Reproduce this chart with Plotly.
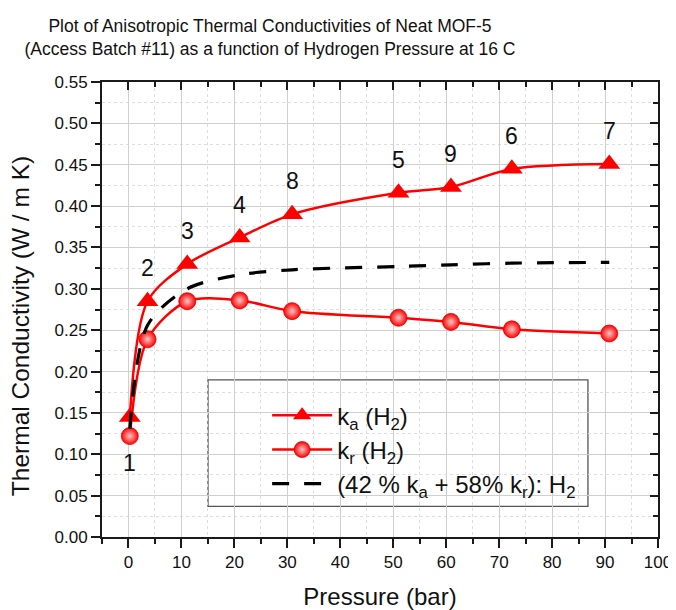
import plotly.graph_objects as go

# ---- data ----
pressure = [0.25, 3.6, 11.1, 21.0, 30.9, 51.0, 60.9, 72.4, 90.8]
k_a = [0.145, 0.285, 0.330, 0.362, 0.390, 0.416, 0.423, 0.445, 0.451]
k_r = [0.122, 0.239, 0.285, 0.286, 0.273, 0.265, 0.260, 0.251, 0.246]
k_mix = [0.131, 0.256, 0.300, 0.317, 0.323, 0.327, 0.329, 0.331, 0.332]
run_labels = ["1", "2", "3", "4", "8", "5", "9", "6", "7"]

x_ticks = list(range(0, 101, 10))
y_ticks = [round(0.05 * i, 2) for i in range(12)]

FONT = "Arial, 'Liberation Sans', sans-serif"
RED = "#ff0000"
AXC = "#1a1a1a"
GRID = "#cfcfcf"
MGRID = "#dedede"

W, H = 668, 602  # page body has an 8px margin

fig = go.Figure()

fig.add_trace(go.Scatter(
    x=pressure, y=k_a, mode="lines+markers",
    name="k<sub>a</sub> (H<sub>2</sub>)",
    line=dict(color=RED, width=2.5, shape="spline", smoothing=0.85),
    marker=dict(symbol="triangle-up", size=19, color=RED,
                line=dict(width=0)),
))
fig.add_trace(go.Scatter(
    x=pressure, y=k_r, mode="lines+markers",
    name="k<sub>r</sub> (H<sub>2</sub>)",
    line=dict(color=RED, width=2.5, shape="spline", smoothing=0.85),
    marker=dict(symbol="circle", size=17, color=RED,
                gradient=dict(type="radial", color="#ffc8c8"),
                line=dict(width=0.8, color="#e00000")),
))
fig.add_trace(go.Scatter(
    x=pressure, y=k_mix, mode="lines",
    name="(42 % k<sub>a</sub> + 58% k<sub>r</sub>): H<sub>2</sub>",
    line=dict(color="black", width=3.2, dash="17px,15px", shape="spline", smoothing=0.85),
))
# dummy trace for mirrored inside-tick axes (top / right)
fig.add_trace(go.Scatter(x=[None], y=[None], xaxis="x2", yaxis="y2",
                         showlegend=False, hoverinfo="skip"))

# run-number labels
for i, lab in enumerate(run_labels):
    if i == 0:
        fig.add_annotation(x=pressure[i], y=k_r[i], text=lab, showarrow=False,
                           yshift=-27, font=dict(family=FONT, size=23, color="#111"))
    else:
        fig.add_annotation(x=pressure[i], y=k_a[i], text=lab, showarrow=False,
                           yshift=33, font=dict(family=FONT, size=23, color="#111"))

# y-axis title (placed like the reference, slightly below plot centre)
fig.add_annotation(text="Thermal Conductivity (W / m K)", xref="paper", yref="paper",
                   x=-0.146, y=0.463, xanchor="center", yanchor="middle",
                   textangle=-90, showarrow=False,
                   font=dict(family=FONT, size=24.5, color="#111"))

# legend frame
fig.add_shape(type="rect", xref="paper", yref="paper",
              x0=0.1906, x1=0.874, y0=0.0672, y1=0.3453,
              line=dict(color="#555555", width=1.3), fillcolor="white",
              layer="between")

common_x = dict(range=[-5, 100], tickvals=x_ticks, zeroline=False, automargin=False)
common_y = dict(range=[0, 0.55], tickvals=y_ticks, zeroline=False, automargin=False)

fig.update_layout(
    width=W, height=H,
    margin=dict(l=94, r=18, t=74, b=73, autoexpand=False),
    paper_bgcolor="white", plot_bgcolor="white",
    font=dict(family=FONT, color="#111"),
    title=dict(
        text="Plot of Anisotropic Thermal Conductivities of Neat MOF-5<br>(Access Batch #11) as a function of Hydrogen Pressure at 16 C",
        x=262 / W, xref="container", xanchor="center",
        y=1 - 24 / H, yref="container", yanchor="top",
        font=dict(family=FONT, size=17.5, color="#111"),
    ),
    xaxis=dict(
        **common_x,
        title=dict(text="Pressure (bar)", font=dict(family=FONT, size=24), standoff=20),
        ticks="outside", ticklen=9, tickwidth=1.5, tickcolor=AXC,
        tickfont=dict(family=FONT, size=17),
        showline=True, linecolor=AXC, linewidth=1.8,
        showgrid=True, gridcolor=GRID, gridwidth=1,
        minor=dict(dtick=5, tick0=0, ticks="outside", ticklen=5, tickwidth=1.5,
                   tickcolor=AXC, showgrid=True, gridcolor=MGRID, griddash="dot",
                   gridwidth=1),
    ),
    yaxis=dict(
        **common_y,
        tickformat=".2f",
        ticks="outside", ticklen=9, tickwidth=1.5, tickcolor=AXC,
        tickfont=dict(family=FONT, size=17),
        showline=True, linecolor=AXC, linewidth=1.8,
        showgrid=True, gridcolor=GRID, gridwidth=1,
        minor=dict(dtick=0.025, tick0=0, ticks="outside", ticklen=5, tickwidth=1.5,
                   tickcolor=AXC, showgrid=True, gridcolor=MGRID, griddash="dot",
                   gridwidth=1),
    ),
    xaxis2=dict(
        **common_x, overlaying="x", side="top", anchor="y2",
        showticklabels=False, ticks="inside", ticklen=8, tickwidth=1.5, tickcolor=AXC,
        showline=True, linecolor=AXC, linewidth=1.8, showgrid=False,
        minor=dict(dtick=5, tick0=0, ticks="inside", ticklen=5, tickwidth=1.5,
                   tickcolor=AXC, showgrid=False),
    ),
    yaxis2=dict(
        **common_y, overlaying="y", side="right", anchor="x2",
        showticklabels=False, ticks="inside", ticklen=8, tickwidth=1.5, tickcolor=AXC,
        showline=True, linecolor=AXC, linewidth=1.8, showgrid=False,
        minor=dict(dtick=0.025, tick0=0, ticks="inside", ticklen=5, tickwidth=1.5,
                   tickcolor=AXC, showgrid=False),
    ),
    showlegend=True,
    legend=dict(
        x=0.297, y=0.316, xanchor="left", yanchor="top",
        bgcolor="rgba(0,0,0,0)", borderwidth=0,
        font=dict(family=FONT, size=24, color="#111"),
        itemwidth=60, tracegroupgap=0,
    ),
)

fig.write_html("out.html")
